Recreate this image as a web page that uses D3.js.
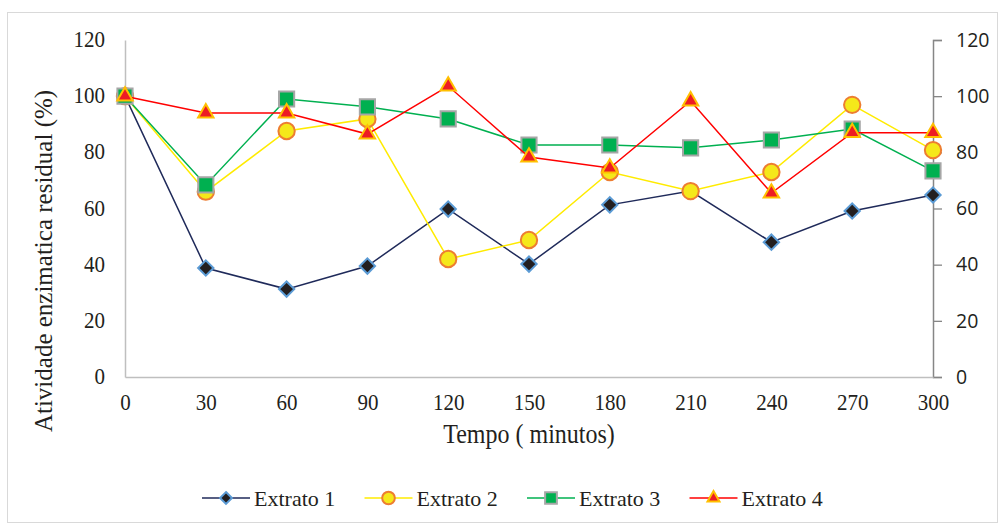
<!DOCTYPE html>
<html>
<head>
<meta charset="utf-8">
<script src="https://cdn.jsdelivr.net/npm/d3@7"></script>
<style>
body { margin: 0; background: #fff; }
</style>
</head>
<body>
<div id="chart"></div>
<script>
// data
var tempos = [0, 30, 60, 90, 120, 150, 180, 210, 240, 270, 300];
var extrato1 = [100, 38.8, 31.3, 39.5, 59.8, 40.2, 61.3, 66.2, 48, 59.1, 64.8];
var extrato2 = [100, 66, 87.6, 91.9, 42, 48.8, 73, 66.2, 73, 96.9, 80.8];
var extrato3 = [100, 68.4, 99, 96.2, 91.9, 82.6, 82.6, 81.6, 84.4, 88.3, 73.4];
var extrato4 = [100, 94, 94, 86.5, 103.6, 78.3, 74.4, 98.3, 65.5, 87, 87];
var yTicks = [0, 20, 40, 60, 80, 100, 120];
var seriesNames = ["Extrato 1", "Extrato 2", "Extrato 3", "Extrato 4"];

var W = 1003, H = 527;
var serif = "'Liberation Serif', 'Times New Roman', serif";
var sans = "'Open Sans', 'Liberation Sans', sans-serif";
var ink = "#231f20";

var svg = d3.select("#chart").append("svg")
    .attr("width", W)
    .attr("height", H);

svg.append("rect")
    .attr("x", 7.5).attr("y", 12.5)
    .attr("width", 990).attr("height", 510)
    .attr("fill", "#fff")
    .attr("stroke", "#d9d9d9");

var x = d3.scalePoint()
    .domain(tempos)
    .range([125, 933]);
var y = d3.scaleLinear()
    .domain([0, 120])
    .range([377, 40]);

// left axis, no tick marks, serif labels a bit tall
var left = svg.append("g").attr("transform", "translate(125,0)")
    .call(d3.axisLeft(y).tickValues(yTicks).tickSize(0).tickPadding(20));
left.select(".domain").attr("stroke", "#bfbfbf").attr("stroke-width", 1.5);
left.selectAll("text").attr("font-family", serif).attr("font-size", 21).attr("fill", ink)
    .attr("transform", "scale(1,1.13)").attr("dy", "0.28em");

// right axis
var right = svg.append("g").attr("transform", "translate(933,0)")
    .call(d3.axisRight(y).tickValues(yTicks).tickSize(9).tickPadding(14));
right.select(".domain").attr("stroke", "#868686").attr("stroke-width", 1.5);
right.selectAll("line").attr("stroke", "#868686").attr("stroke-width", 1.3);
right.selectAll("text").attr("font-family", sans).attr("font-size", 19.5).attr("fill", ink);

// bottom axis
var bottom = svg.append("g").attr("transform", "translate(0,377)")
    .call(d3.axisBottom(x).tickSize(0).tickPadding(14));
bottom.select(".domain").attr("stroke", "#bfbfbf").attr("stroke-width", 1.5);
bottom.selectAll("text").attr("font-family", serif).attr("font-size", 21).attr("fill", ink)
    .attr("transform", "scale(1,1.13)");

svg.append("text")
    .attr("transform", "translate(52,261) rotate(-90)")
    .attr("text-anchor", "middle")
    .attr("font-family", serif).attr("font-size", 25).attr("fill", ink)
    .text("Atividade enzimatica residual (%)");

svg.append("text")
    .attr("transform", "translate(529,443) scale(1,1.15)")
    .attr("text-anchor", "middle")
    .attr("font-family", serif).attr("font-size", 24).attr("fill", ink)
    .text("Tempo ( minutos)");

var series = [
    {name: seriesNames[0], values: extrato1, line: "#1f2a5a", fill: "#231f20", stroke: "#5b9bd5", sym: d3.symbolDiamond2, size: 150},
    {name: seriesNames[1], values: extrato2, line: "#ffeb00", fill: "#f5e81a", stroke: "#ed7d31", sym: d3.symbolCircle, size: 210},
    {name: seriesNames[2], values: extrato3, line: "#00b050", fill: "#00b050", stroke: "#a6a6a6", sym: d3.symbolSquare, size: 230},
    {name: seriesNames[3], values: extrato4, line: "#ff0000", fill: "#ed1c24", stroke: "#ffc000", sym: d3.symbolTriangle2, size: 170}
];

var line = d3.line()
    .x(function (d, i) { return x(tempos[i]); })
    .y(function (d) { return y(d); });

series.forEach(function (s) {
    var g = svg.append("g");
    g.append("path")
        .attr("d", line(s.values))
        .attr("fill", "none")
        .attr("stroke", s.line)
        .attr("stroke-width", 1.5);
    g.selectAll("path.m")
        .data(s.values)
        .enter().append("path")
        .attr("class", "m")
        .attr("d", d3.symbol().type(s.sym).size(s.size))
        .attr("transform", function (d, i) {
            return "translate(" + x(tempos[i]) + "," + y(d) + ")";
        })
        .attr("fill", s.fill)
        .attr("stroke", s.stroke)
        .attr("stroke-width", 2);
});

// legend
var legX = [202, 364.5, 527, 689.5];
var leg = svg.append("g").attr("transform", "translate(0,498)");
series.forEach(function (s, i) {
    var g = leg.append("g").attr("transform", "translate(" + legX[i] + ",0)");
    g.append("line").attr("x1", 0).attr("x2", 48).attr("y1", 0).attr("y2", 0)
        .attr("stroke", s.line).attr("stroke-width", 1.5);
    g.append("path")
        .attr("d", d3.symbol().type(s.sym).size(s.size * 0.6))
        .attr("transform", "translate(24,0)")
        .attr("fill", s.fill).attr("stroke", s.stroke).attr("stroke-width", 2);
    g.append("text")
        .attr("x", 52).attr("y", 8)
        .attr("font-family", serif).attr("font-size", 22).attr("fill", ink)
        .text(s.name);
});
</script>
</body>
</html>
